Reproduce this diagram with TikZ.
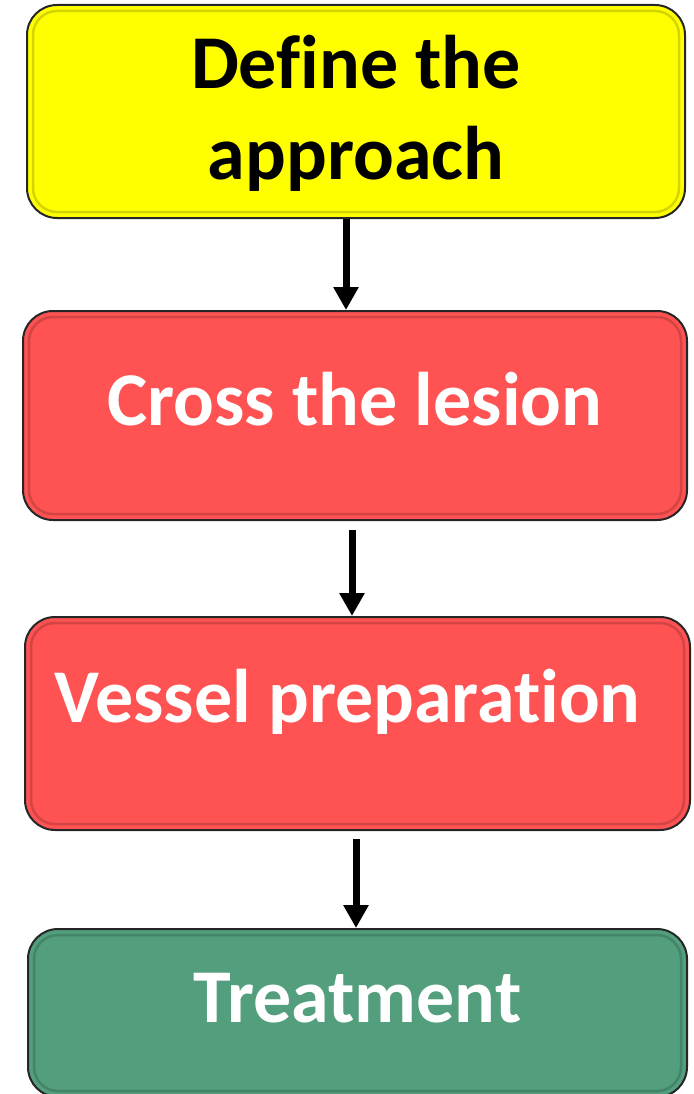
\documentclass[tikz,border=0pt]{standalone}
\usepackage{fontspec}
\setmainfont{Carlito}[Ligatures=NoCommon]
\usetikzlibrary{arrows.meta,positioning}
\definecolor{yellow}{RGB}{255,255,0}
\definecolor{red}{RGB}{255,82,82}
\definecolor{green}{RGB}{82,158,125}

\tikzset{
  stage/.style={rectangle,rounded corners=30pt,draw=black!85,line width=2pt,
    fill=#1,inner sep=0pt,align=center,
    font=\bfseries\fontsize{76}{91}\selectfont},
  bevel/.style={draw=#1!70!black,line width=2.5pt,rounded corners=24pt,opacity=.55},
  flow/.style={-{Triangle[width=24pt,length=23pt]},line width=7pt}
}

\begin{document}
\begin{tikzpicture}[x=1pt,y=1pt]
\useasboundingbox (0,0) rectangle (693,-1094);
\node[stage=yellow,minimum width=658pt,minimum height=213pt,text depth=9pt] (def) at (356,-111.5) {Define the\\approach};
\node[stage=red,text=white,minimum width=664pt,minimum height=209pt,text height=52pt,text depth=33pt,below=91pt of def,xshift=-1pt] (cross) {Cross the lesion};
\node[stage=red,text=white,minimum width=665pt,minimum height=213pt,text height=52pt,text depth=55pt,below=95pt of cross,xshift=2.5pt] (vessel) {Vessel preparation\hspace*{20pt}};
\node[stage=green,text=white,minimum width=659pt,minimum height=168pt,text height=52pt,text depth=34pt,below=97pt of vessel] (treat) {Treatment};
% inner edge of the boxes
\foreach \n/\c in {def/yellow,cross/red,vessel/red,treat/green}
  \draw[bevel=\c] ([shift={(7pt,7pt)}]\n.south west) rectangle ([shift={(-7pt,-7pt)}]\n.north east);
\draw[flow] ([xshift=-10pt]def.south) -- ([xshift=-10pt]def.south |- cross.north);
\draw[flow] ([xshift=-3pt,yshift=-9pt]cross.south) -- ([xshift=-3pt]cross.south |- vessel.north);
\draw[flow] ([xshift=-1.5pt,yshift=-8pt]vessel.south) -- ([xshift=-1.5pt]vessel.south |- treat.north);
\end{tikzpicture}
\end{document}
